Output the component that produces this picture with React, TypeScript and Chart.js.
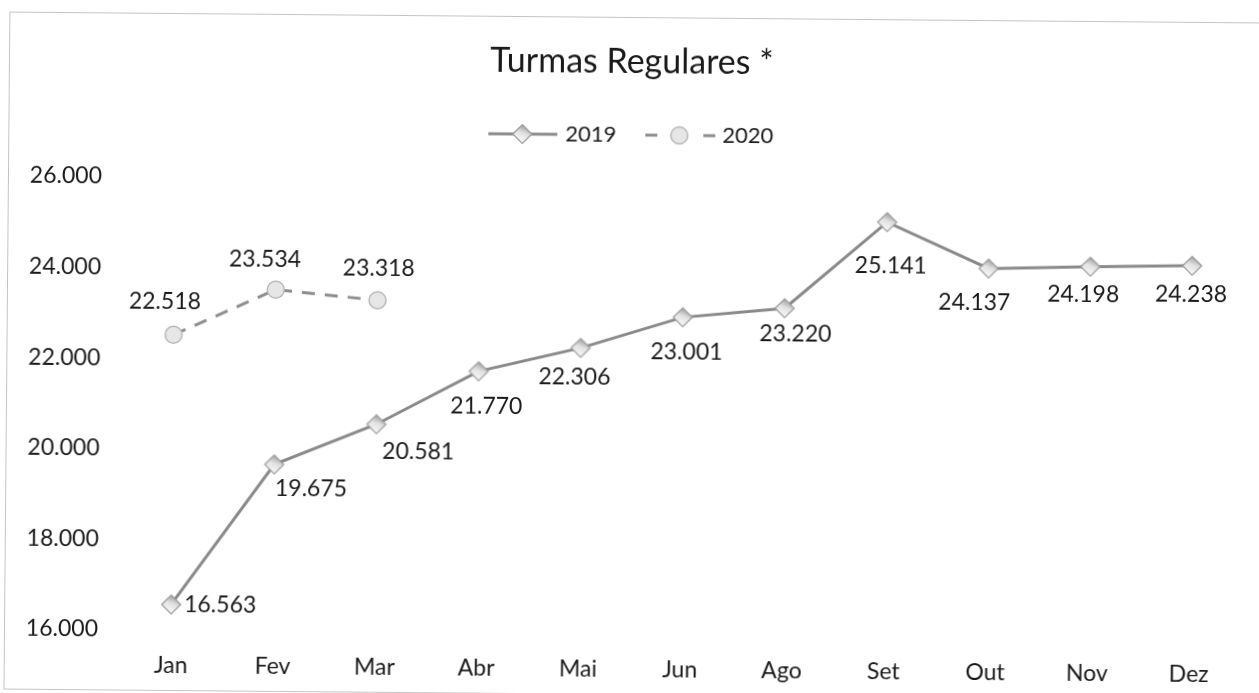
import React, { useEffect, useRef } from 'react';
import { Chart, registerables } from 'chart.js';

Chart.register(...registerables);

// ---------- data ----------
const categories = ['Jan', 'Fev', 'Mar', 'Abr', 'Mai', 'Jun', 'Ago', 'Set', 'Out', 'Nov', 'Dez'];
const values2019 = [16563, 19675, 20581, 21770, 22306, 23001, 23220, 25141, 24137, 24198, 24238];
const values2020 = [22518, 23534, 23318];
const seriesNames = ['2019', '2020'];
const yTickValues = [16000, 18000, 20000, 22000, 24000, 26000];
const yTickLabels = ['16.000', '18.000', '20.000', '22.000', '24.000', '26.000'];
const titleText = 'Turmas Regulares *';

// ---------- styles ----------
const labelOffsets2019 = [[49, 0], [37, 24], [42, 27], [8, 35], [-6, 29], [4, 35], [11, 26], [4, 44], [-14, 34], [-7, 28], [-1, 29]];
const labelOffsets2020 = [[-9, -33], [-11, -30], [1, -32]];
const FONT = 'Lato, "Open Sans", "DejaVu Sans", sans-serif';
const TEXT = '#1a1a1a';
const LINE19 = '#8a8a8a';
const LINE20 = '#8e8e8e';

const fmt = (v: number) => String(v).replace(/\B(?=(\d{3})+(?!\d))/g, '.');

function makeDiamond(): HTMLCanvasElement {
  const c = document.createElement('canvas');
  c.width = 22; c.height = 22;
  const g = c.getContext('2d')!;
  const r = 9.5, cx = 11, cy = 11;
  g.beginPath();
  g.moveTo(cx - r, cy); g.lineTo(cx, cy - r); g.lineTo(cx + r, cy); g.lineTo(cx, cy + r); g.closePath();
  const grad = g.createLinearGradient(cx + 4, cy - r, cx - 4, cy + r);
  grad.addColorStop(0, '#8f8f8f');
  grad.addColorStop(0.45, '#e2e2e2');
  grad.addColorStop(1, '#ffffff');
  g.fillStyle = grad;
  g.fill();
  g.lineWidth = 1.2;
  g.strokeStyle = '#9a9a9a';
  g.stroke();
  return c;
}

export default function App() {
  const ref = useRef<HTMLCanvasElement>(null);
  useEffect(() => {
    if (!ref.current) return;
    const diamond = makeDiamond();
    const offsets = [labelOffsets2019, labelOffsets2020];

    const framePlugin = {
      id: 'frame',
      beforeDraw(chart: any) {
        const ctx = chart.ctx;
        ctx.save();
        ctx.fillStyle = '#ffffff';
        ctx.fillRect(0, 0, chart.width, chart.height);
        ctx.strokeStyle = '#c4c4c4';
        ctx.lineWidth = 1;
        ctx.strokeRect(6.5, 13.5, chart.width + 20, 677);
        ctx.restore();
      },
    };

    const labelsPlugin = {
      id: 'dataLabels',
      afterDatasetsDraw(chart: any) {
        const ctx = chart.ctx;
        ctx.save();
        ctx.font = `23px ${FONT}`;
        ctx.fillStyle = TEXT;
        ctx.textAlign = 'center';
        ctx.textBaseline = 'middle';
        chart.data.datasets.forEach((ds: any, di: number) => {
          const meta = chart.getDatasetMeta(di);
          meta.data.forEach((pt: any, i: number) => {
            const v = ds.data[i];
            if (v == null) return;
            const off = offsets[di][i] || [0, 0];
            ctx.fillText(fmt(v), pt.x + off[0], pt.y + off[1]);
          });
        });
        ctx.restore();
      },
    };

    const legendPlugin = {
      id: 'customLegend',
      afterDraw(chart: any) {
        const ctx = chart.ctx;
        const y = 131;
        ctx.save();
        // 2019
        ctx.strokeStyle = LINE19;
        ctx.lineWidth = 3;
        ctx.beginPath(); ctx.moveTo(486, y); ctx.lineTo(555, y); ctx.stroke();
        ctx.drawImage(diamond, 520 - 11, y - 11);
        // 2020
        ctx.strokeStyle = LINE20;
        ctx.beginPath(); ctx.moveTo(643, y); ctx.lineTo(655, y); ctx.moveTo(701, y); ctx.lineTo(713, y); ctx.stroke();
        ctx.beginPath(); ctx.arc(677, y, 8.5, 0, Math.PI * 2);
        ctx.fillStyle = '#e6e6e6'; ctx.fill();
        ctx.lineWidth = 1.5; ctx.strokeStyle = '#b8b8b8'; ctx.stroke();
        // texts
        ctx.font = `22px ${FONT}`;
        ctx.fillStyle = TEXT;
        ctx.textAlign = 'left';
        ctx.textBaseline = 'middle';
        ctx.fillText(seriesNames[0], 563, y);
        ctx.fillText(seriesNames[1], 720, y);
        ctx.restore();
      },
    };

    const chart = new Chart(ref.current, {
      type: 'line',
      data: {
        labels: categories,
        datasets: [
          {
            label: seriesNames[0],
            data: values2019,
            borderColor: LINE19,
            borderWidth: 3,
            pointStyle: diamond as any,
            pointRadius: 9,
            pointHoverRadius: 9,
            tension: 0,
            fill: false,
          },
          {
            label: seriesNames[1],
            data: values2020,
            borderColor: LINE20,
            borderWidth: 3,
            borderDash: [13, 10],
            pointStyle: 'circle',
            pointRadius: 8.5,
            pointHoverRadius: 8.5,
            pointBackgroundColor: '#e6e6e6',
            pointBorderColor: '#b8b8b8',
            pointBorderWidth: 1.5,
            tension: 0,
            fill: false,
          },
        ],
      },
      options: {
        responsive: false,
        animation: false,
        events: [],
        layout: { padding: { left: 10, right: 11, top: 0, bottom: 13 } },
        plugins: {
          legend: { display: false },
          tooltip: { enabled: false },
          title: {
            display: true,
            text: titleText,
            color: TEXT,
            font: { family: FONT, size: 34, weight: 'normal' as any, lineHeight: 1.2 },
            padding: { top: 37.6, bottom: 98.6 },
          },
        },
        scales: {
          x: {
            type: 'category',
            offset: false,
            grid: { display: false, drawTicks: false },
            border: { display: false },
            afterFit: (s: any) => { s.height = 50; },
            ticks: { color: TEXT, font: { family: FONT, size: 23 }, padding: 22, maxRotation: 0, autoSkip: false },
          },
          y: {
            type: 'linear',
            position: 'left',
            min: 16000,
            max: 26000,
            grid: { display: false, drawTicks: false },
            border: { display: false },
            afterFit: (s: any) => { s.width = 163; s.paddingTop = 0; s.paddingBottom = 0; },
            ticks: {
              stepSize: 2000,
              color: TEXT,
              font: { family: FONT, size: 23 },
              padding: 73,
              callback: (v: any) => {
                const i = yTickValues.indexOf(Number(v));
                return i >= 0 ? yTickLabels[i] : '';
              },
            },
          },
          yRight: {
            type: 'linear',
            position: 'right',
            display: true,
            grid: { display: false, drawTicks: false },
            border: { display: false },
            ticks: { display: false },
            afterFit: (s: any) => { s.width = 57; s.paddingTop = 0; s.paddingBottom = 0; },
          },
        },
      },
      plugins: [framePlugin, labelsPlugin, legendPlugin],
    });
    return () => chart.destroy();
  }, []);

  return (
    <div style={{ position: 'fixed', left: 0, top: 0, width: 1259, height: 693, overflow: 'hidden', background: '#fff' }}>
      <canvas
        ref={ref}
        width={1259}
        height={693}
        style={{ display: 'block', width: 1259, height: 693, transform: 'rotate(0.5deg)', transformOrigin: '173px 400px' }}
      />
    </div>
  );
}
